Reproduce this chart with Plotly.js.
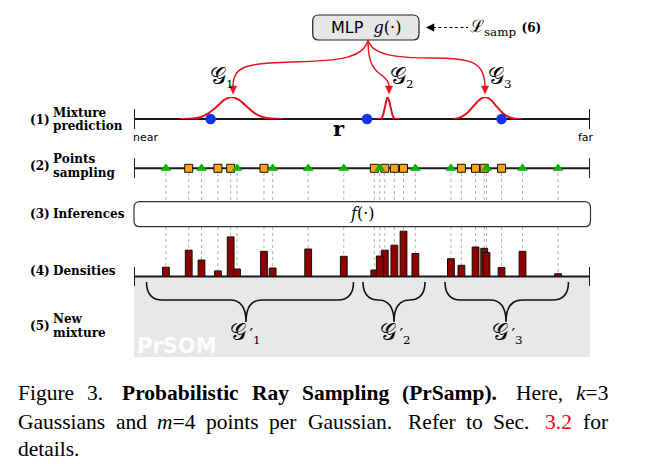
<!DOCTYPE html>
<html><head><meta charset="utf-8">
<script src="https://cdn.plot.ly/plotly-3.0.1.min.js"></script>
<style>html,body{margin:0;padding:0;background:#fff}</style>
</head><body><div id="chart" style="width:654px;height:466px"></div>
<script>
// ================= DATA =================
// ray depth runs from 0 ("near") to 1 ("far")
const rayEnds = ['near', 'far'];
const gaussianSymbol = '𝒢';
const gaussianIndex = ['1', '2', '3'];
// predicted mixture components (depth, relative density)
const g1Pos = [0.101, 0.127, 0.145, 0.162, 0.180, 0.197, 0.214, 0.231, 0.249, 0.266, 0.284, 0.302, 0.325];
const g1Dens = [0, 0.02, 0.08, 0.24, 0.53, 0.86, 1, 0.86, 0.53, 0.24, 0.08, 0.02, 0];
const g2Pos = [0.532, 0.540, 0.544, 0.548, 0.553, 0.556, 0.560, 0.565, 0.569, 0.573, 0.582];
const g2Dens = [0, 0.01, 0.07, 0.33, 0.79, 1, 0.79, 0.33, 0.07, 0.01, 0];
const g3Pos = [0.700, 0.708, 0.717, 0.730, 0.743, 0.757, 0.770, 0.783, 0.796, 0.809, 0.822, 0.833, 0.851];
const g3Dens = [0, 0.02, 0.09, 0.26, 0.55, 0.86, 1, 0.86, 0.55, 0.26, 0.09, 0.02, 0];
// blue points on the ray
const mixturePoints = [0.168, 0.511, 0.806];
// uniform (stratified) samples and densities
const uniformPos = [0.070, 0.148, 0.226, 0.304, 0.382, 0.460, 0.539, 0.617, 0.695, 0.773, 0.852, 0.930];
const uniformDens = [9.3, 16.5, 7.5, 8.5, 27.5, 20.2, 20.5, 23.0, 17.8, 24.0, 25.2, 2.8];
// samples drawn from the Gaussians and densities
const gaussPos = [0.120, 0.184, 0.212, 0.285, 0.527, 0.550, 0.571, 0.591, 0.718, 0.749, 0.768, 0.806];
const gaussDens = [26.3, 5.6, 39.6, 25.2, 6.5, 26.3, 31.3, 45.3, 11.2, 29.5, 28.2, 9.0];
// step labels
const stepNums = ['(1)', '(2)', '(3)', '(4)', '(5)'];
const stepTexts = [['Mixture', 'prediction'], ['Points', 'sampling'], ['Inferences'], ['Densities'], ['New', 'mixture']];
// caption words: segments of [text, style] (b = bold, i = italic, c = red link)
const captionLine1 = [[['Figure']], [['3.']], [['Probabilistic', 'b']], [['Ray', 'b']], [['Sampling', 'b']], [['(PrSamp).', 'b']], [['Here,']], [['k', 'i'], ['=3']]];
const captionLine2 = [[['Gaussians']], [['and']], [['m', 'i'], ['=4']], [['points']], [['per']], [['Gaussian.']], [['Refer']], [['to']], [['Sec.']], [['3.2', 'c']], [['for']]];
const captionLine3 = [[['details.']]];

// ================= LAYOUT HELPERS =================
const W = 654, H = 466;
const X = px => px / W;
const Y = py => 1 - py / H;
const pp = s => { let i = 0; return s.replace(/-?\d+(\.\d+)?/g, m => { const v = parseFloat(m); const r = (i % 2 === 0) ? X(v) : Y(v); i++; return r.toFixed(5); }); };
const rrect = (x0, y0, x1, y1, r) => pp(`M ${x0 + r} ${y0} L ${x1 - r} ${y0} Q ${x1} ${y0} ${x1} ${y0 + r} L ${x1} ${y1 - r} Q ${x1} ${y1} ${x1 - r} ${y1} L ${x0 + r} ${y1} Q ${x0} ${y1} ${x0} ${y1 - r} L ${x0} ${y0 + r} Q ${x0} ${y0} ${x0 + r} ${y0} Z`);

const RX0 = 134, RX1 = 590;
const R1 = 119, R2 = 168.3, R4 = 276.5;
const RED = '#e8121a';
const shapes = [];
const annotations = [];

// gray "new mixture" panel
shapes.push({type: 'rect', xref: 'paper', yref: 'paper', x0: X(RX0), x1: X(RX1), y0: Y(277), y1: Y(357), fillcolor: '#e8e8e8', line: {width: 0}, layer: 'below'});
// dotted guide lines from samples to densities
uniformPos.concat(gaussPos).forEach(p => shapes.push({type: 'line', xref: 'x', yref: 'paper', x0: p, x1: p, y0: Y(173), y1: Y(276), line: {color: '#b4b4b4', width: 1, dash: 'dot'}, layer: 'below'}));
// f(.) box
shapes.push({type: 'path', xref: 'paper', yref: 'paper', path: rrect(134, 201.7, 590.5, 226.7, 6), fillcolor: '#ffffff', line: {color: '#333333', width: 1.2}, layer: 'below'});
// ray lines with end ticks
[[R1, 10], [R2, 10], [R4, 9.5]].forEach(([r, t]) => {
  shapes.push({type: 'line', xref: 'x', yref: 'paper', x0: 0, x1: 1, y0: Y(r), y1: Y(r), line: {color: '#1a1a1a', width: 2}, layer: 'below'});
  [0, 1].forEach(e => shapes.push({type: 'line', xref: 'x', yref: 'paper', x0: e, x1: e, y0: Y(r - t), y1: Y(r + t), line: {color: '#1a1a1a', width: 2}, layer: 'below'}));
});
// braces
const brace = (x1, xm, x2) => pp(`M ${x1} 282 Q ${x1} 300 ${x1 + 16} 300 L ${xm - 16} 300 Q ${xm} 300 ${xm} 322 Q ${xm} 300 ${xm + 16} 300 L ${x2 - 16} 300 Q ${x2} 300 ${x2} 282`);
[[146.5, 246, 353.5], [363, 394, 425], [445, 506, 568.5]].forEach(b => shapes.push({type: 'path', xref: 'paper', yref: 'paper', path: brace(...b), fillcolor: 'rgba(0,0,0,0)', line: {color: '#111', width: 1.6}}));
// MLP box
shapes.push({type: 'path', xref: 'paper', yref: 'paper', path: rrect(312.7, 15, 419, 40, 6), fillcolor: '#e6e6e6', line: {color: '#222', width: 1.2}});
// dashed loss arrow
shapes.push({type: 'line', xref: 'paper', yref: 'paper', x0: X(433), x1: X(468), y0: Y(27.5), y1: Y(27.5), line: {color: '#000', width: 1.2, dash: '3px,2.5px'}});
shapes.push({type: 'path', xref: 'paper', yref: 'paper', path: pp('M 426.5 27.5 L 434 23.8 L 434 31.2 Z'), fillcolor: '#000', line: {color: '#000', width: 0.5}});
// red arrows from MLP to Gaussians
const curves = [
  'M 368 40 C 364 58 340 61 292 62 C 246 63 233 66 233 87',
  'M 368 40 C 368 60 372 68 380 74 C 387 79 389 82 389 87',
  'M 368 40 C 372 55 395 58 432 58 C 472 58 485 62 485 87'
];
curves.forEach(c => shapes.push({type: 'path', xref: 'paper', yref: 'paper', path: pp(c), fillcolor: 'rgba(0,0,0,0)', line: {color: RED, width: 1.4}}));
[233, 389, 485].forEach(x => shapes.push({type: 'path', xref: 'paper', yref: 'paper', path: pp(`M ${x} 94 L ${x - 3.6} 86 L ${x + 3.6} 86 Z`), fillcolor: RED, line: {color: RED, width: 0.5}}));

// ================= TEXT =================
const ann = (x, y, text, size, family, extra) => annotations.push(Object.assign({xref: 'paper', yref: 'paper', x: X(x), y: Y(y), text: text, showarrow: false, borderpad: 0, xanchor: 'center', yanchor: 'middle', font: {size: size, family: family, color: '#000'}}, extra || {}));
const SERIF_B = 'DejaVu Serif';
// step labels
const stepY = [[120.5, [112.5, 126]], [166.5, [159, 173]], [214, [214]], [271, [271]], [326, [319, 333]]];
stepNums.forEach((n, i) => {
  ann(29, stepY[i][0], '<b>' + n + '</b>', 12, SERIF_B, {xanchor: 'left'});
  stepTexts[i].forEach((t, j) => ann(51.5, stepY[i][1][j], '<b>' + t + '</b>', 12, SERIF_B, {xanchor: 'left'}));
});
ann(145, 137, rayEnds[0], 11, 'DejaVu Sans');
ann(586, 137, rayEnds[1], 11, 'DejaVu Sans');
ann(339, 129, '<b>r</b>', 21, 'DejaVu Serif');
const gSym = '<span style="font-size:23px">' + gaussianSymbol + '</span>';
[[222, 77], [402.5, 77], [500, 77]].forEach((p, i) => ann(p[0], p[1], gSym + '<sub>' + gaussianIndex[i] + '</sub>', 17, 'DejaVu Serif'));
[[245, 333], [395, 333], [507, 333]].forEach((p, i) => ann(p[0], p[1], gSym + '\u2009<span style="font-size:16px">′</span><sub>' + gaussianIndex[i] + '</sub>', 17, 'DejaVu Serif'));
ann(362.5, 214, '<i>f</i>(·)', 16, 'DejaVu Serif');
ann(366, 27.5, '<span style="font-family:DejaVu Sans">MLP</span>  <i>g</i>(·)', 16, 'DejaVu Serif');
ann(469, 27.5, 'ℒ<sub>samp</sub> <b><span style="font-size:12px">(6)</span></b>', 17, 'DejaVu Serif', {xanchor: 'left'});
ann(135.5, 345.5, '<b>PrSOM</b>', 21, 'DejaVu Sans', {xanchor: 'left', font: {size: 21, family: 'DejaVu Sans', color: '#ffffff'}});

// caption, justified between the left and right margins
const CAP = 'Liberation Serif', CAPSIZE = 21.5, CAPL = 17, CAPR = 607;
const ctx = document.createElement('canvas').getContext('2d');
const segFont = st => (st === 'b' ? 'bold ' : st === 'i' ? 'italic ' : '') + CAPSIZE + 'px "' + CAP + '"';
const segW = seg => { ctx.font = segFont(seg[1]); return ctx.measureText(seg[0]).width; };
const segHtml = seg => seg[1] === 'b' ? '<b>' + seg[0] + '</b>' : seg[1] === 'i' ? '<i>' + seg[0] + '</i>' : seg[1] === 'c' ? '<span style="color:#ff0000">' + seg[0] + '</span>' : seg[0];
const placeLine = (words, y, justify) => {
  const widths = words.map(w => w.reduce((a, s) => a + segW(s), 0));
  const gapW = words.slice(0, -1).map(w => /[.]$/.test(w[w.length - 1][0]) ? 1.5 : 1);
  const total = widths.reduce((a, b) => a + b, 0);
  const wsum = gapW.reduce((a, b) => a + b, 0);
  const unit = justify ? (CAPR - CAPL - total) / wsum : CAPSIZE * 0.25;
  let x = CAPL;
  words.forEach((w, i) => {
    ann(x, y, w.map(segHtml).join(''), CAPSIZE, CAP, {xanchor: 'left'});
    x += widths[i] + (i < gapW.length ? gapW[i] * unit : 0);
  });
};
placeLine(captionLine1, 393, true);
placeLine(captionLine2, 422, true);
placeLine(captionLine3, 449, false);

// ================= TRACES =================
const traces = [
  {x: g1Pos, y: g1Dens, yaxis: 'y2', type: 'scatter', mode: 'lines', cliponaxis: false, line: {color: RED, width: 2, shape: 'spline', smoothing: 0.8}},
  {x: g2Pos, y: g2Dens, yaxis: 'y2', type: 'scatter', mode: 'lines', cliponaxis: false, line: {color: RED, width: 2, shape: 'spline', smoothing: 0.8}},
  {x: g3Pos, y: g3Dens, yaxis: 'y2', type: 'scatter', mode: 'lines', cliponaxis: false, line: {color: RED, width: 2, shape: 'spline', smoothing: 0.8}},
  {x: mixturePoints, y: mixturePoints.map(() => 0), yaxis: 'y2', type: 'scatter', mode: 'markers', cliponaxis: false, marker: {symbol: 'circle', size: 10.5, color: '#1233f0'}},
  {x: gaussPos, y: gaussPos.map(() => 0), yaxis: 'y4', type: 'scatter', mode: 'markers', cliponaxis: false, marker: {symbol: 'square', size: 8, color: '#ffa21a', line: {color: '#111', width: 1}}},
  {x: uniformPos, y: uniformPos.map(() => 0), yaxis: 'y4', type: 'scatter', mode: 'markers', cliponaxis: false, marker: {symbol: 'triangle-up', size: 9.5, color: '#00b400'}},
  {x: gaussPos, y: gaussDens, yaxis: 'y3', type: 'bar', width: 0.0149, cliponaxis: false, marker: {color: '#8e0000', line: {color: '#111', width: 1}}},
  {x: uniformPos, y: uniformDens, yaxis: 'y3', type: 'bar', width: 0.0149, cliponaxis: false, marker: {color: '#8e0000', line: {color: '#111', width: 1}}}
];

const hid = {visible: false, fixedrange: true};
const layout = {
  width: W, height: H, autosize: false,
  margin: {l: 0, r: 0, t: 0, b: 0, pad: 0},
  paper_bgcolor: '#ffffff', plot_bgcolor: 'rgba(0,0,0,0)',
  showlegend: false, barmode: 'overlay', bargap: 0,
  xaxis: Object.assign({domain: [X(RX0), X(RX1)], range: [0, 1]}, hid),
  yaxis: Object.assign({domain: [0, 1], range: [0, 1]}, hid),
  yaxis2: Object.assign({domain: [Y(R1), Y(97)], range: [0, 1], anchor: 'x'}, hid),
  yaxis3: Object.assign({domain: [Y(R4), Y(R4 - 50)], range: [0, 50], anchor: 'x'}, hid),
  yaxis4: Object.assign({domain: [Y(R2 + 10), Y(R2 - 10)], range: [-1, 1], anchor: 'x'}, hid),
  shapes: shapes, annotations: annotations
};
Plotly.newPlot('chart', traces, layout, {staticPlot: true, displayModeBar: false});
</script></body></html>
